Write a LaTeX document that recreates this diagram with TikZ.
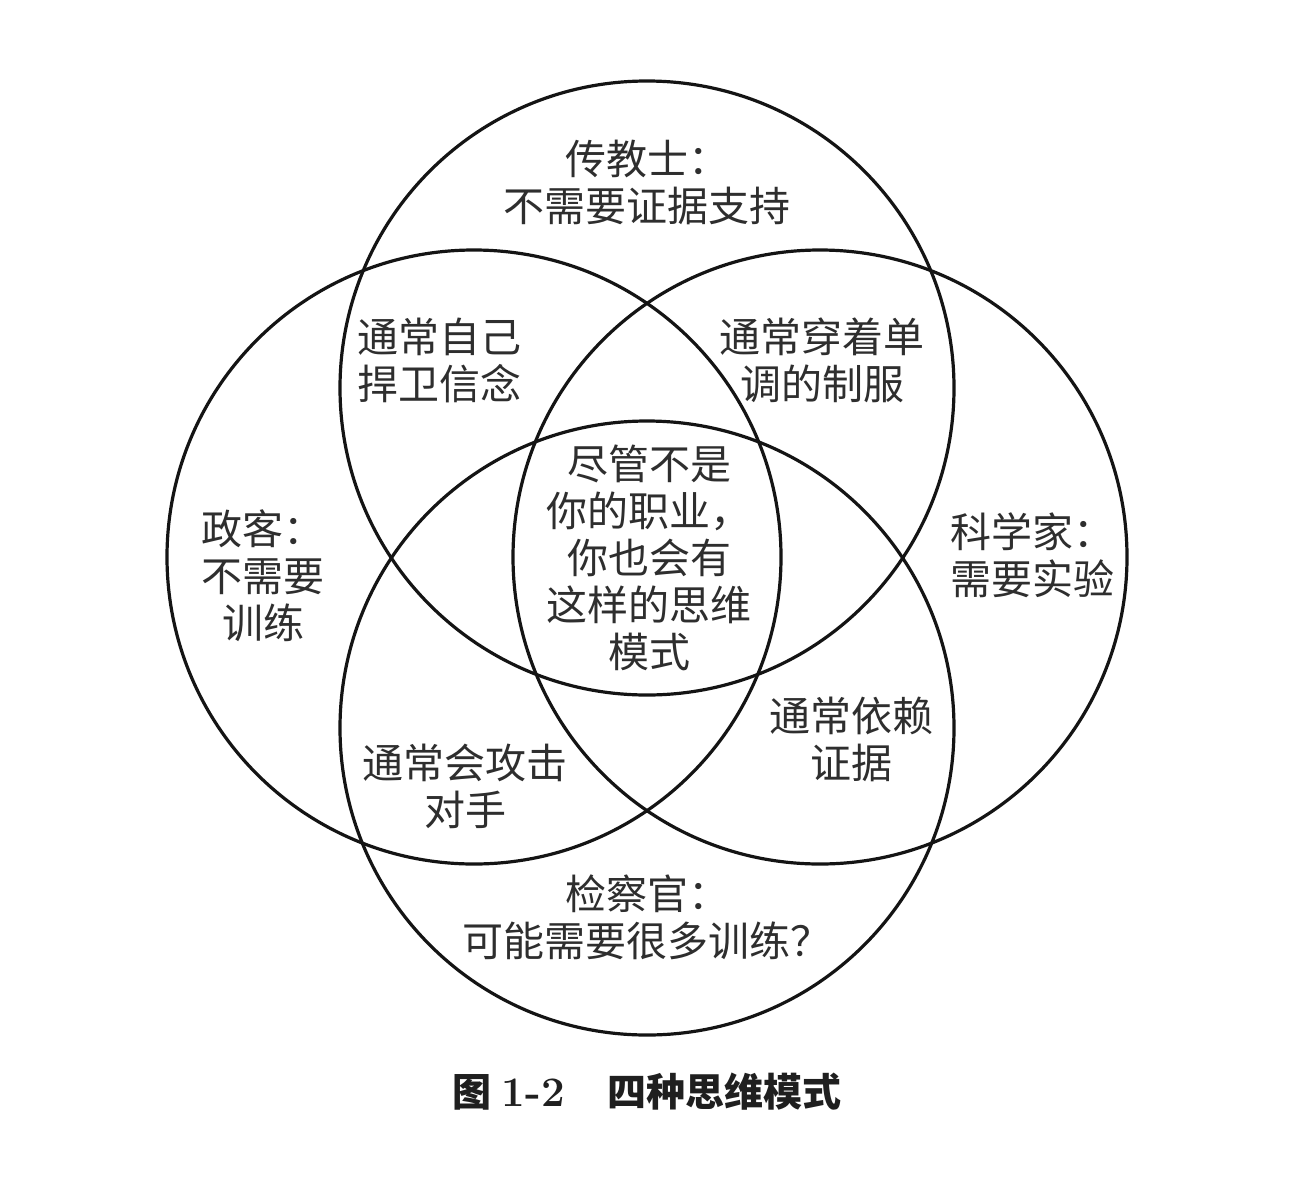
\documentclass[tikz,border=0pt]{standalone}
\usepackage{fontspec}
\newfontfamily\cjk{Noto Sans CJK SC}
\begin{document}
\begin{tikzpicture}[x=0.5pt,y=-0.5pt,
  ring/.style={line width=1.6pt, draw=black!92},
  lbl/.style={font=\cjk\fontsize{20.5}{23.5}\selectfont, text=black!82, align=center, inner sep=0pt},
  captext/.style={font=\fontsize{19.5}{22}\selectfont, text=black!88, inner sep=0pt}]
\fill[white] (0,0) rectangle (1310,1178);
\useasboundingbox (0,0) rectangle (1310,1178);
\coordinate (T) at (647,388);
\coordinate (B) at (647,728);
\coordinate (L) at (474,557);
\coordinate (R) at (820,557);
\draw[ring] (T) circle[radius=153.5pt];
\draw[ring] (B) circle[radius=153.5pt];
\draw[ring] (L) circle[radius=153.5pt];
\draw[ring] (R) circle[radius=153.5pt];
\node[lbl] (top) at (647,182) {传教士：\\不需要证据支持};
\node[lbl] (ul) at (439,360) {通常自己\\捍卫信念};
\node[lbl] (ur) at (822,360) {通常穿着单\\调的制服};
\node[lbl] (left) at (263,576) {政客：\\不需要\\训练};
\node[lbl] (mid) at (649,558) {尽管不是\\你的职业，\\你也会有\\这样的思维\\模式};
\node[lbl] (right) at (1032,555) {科学家：\\需要实验};
\node[lbl] (lr) at (851,739) {通常依赖\\证据};
\node[lbl] (ll) at (465,786) {通常会攻击\\对手};
\node[lbl] (bot) at (647,917) {检察官：\\可能需要很多训练？};
\node[captext] (caption) at (647,1092) {{\cjk\bfseries 图}\hspace{5pt}{\fontsize{21}{22}\selectfont\textbf{1-2}}\hspace{21pt}{\cjk\bfseries 四种思维模式}};
\end{tikzpicture}
\end{document}
